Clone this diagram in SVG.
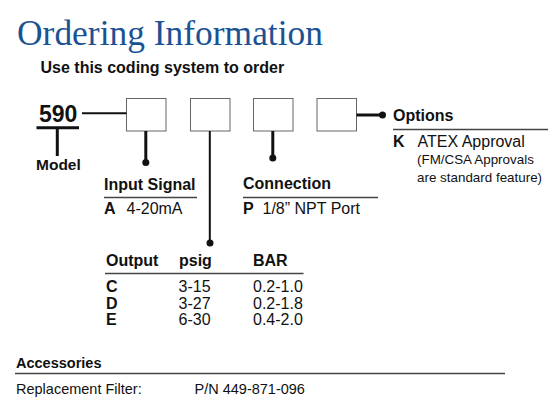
<svg xmlns="http://www.w3.org/2000/svg" width="558" height="409" viewBox="0 0 558 409">
<style>
text{font-family:"Liberation Sans",Arial,sans-serif;fill:#111}
.title{font-family:"Liberation Serif","Times New Roman",serif;fill:#1b5294;font-size:35px}
.b{font-weight:bold}
.h{font-size:16px;font-weight:bold}
.r{font-size:16px}
.s{font-size:13.4px}
.acc{font-size:14.5px}
.box{fill:#fff;stroke:#666;stroke-width:1}
.rule{stroke:#444;stroke-width:1.5;fill:none}
.conn{stroke:#111;fill:none}
.dot{fill:#111}
</style>
<rect width="558" height="409" fill="#fff"/>
<g id="title">
<text class="title" x="17" y="44.5" textLength="306" lengthAdjust="spacingAndGlyphs">Ordering Information</text>
<text class="b" x="40.5" y="73" font-size="16">Use this coding system to order</text>
</g>
<g id="model">
<text class="b" x="39" y="122.3" font-size="23">590</text>
<line x1="36.5" y1="127.7" x2="79" y2="127.7" stroke="#111" stroke-width="3"/>
<line x1="57.3" y1="127.7" x2="57.3" y2="156" stroke="#111" stroke-width="3"/>
<text class="b" x="36" y="170" font-size="15.5">Model</text>
</g>
<g id="box-input"><rect class="box" x="126.5" y="98.5" width="39.5" height="32.5"/></g>
<g id="box-output"><rect class="box" x="190.5" y="98.5" width="39.5" height="32.5"/></g>
<g id="box-connection"><rect class="box" x="253.5" y="98.5" width="39.5" height="32.5"/></g>
<g id="box-options"><rect class="box" x="317" y="98.5" width="39.5" height="32.5"/></g>
<g id="connectors">
<line class="conn" x1="82" y1="113.3" x2="126.5" y2="113.3" stroke-width="2"/>
<line class="conn" x1="145.8" y1="131" x2="145.8" y2="162.5" stroke-width="3"/>
<circle class="dot" cx="145.8" cy="162.5" r="3.5"/>
<line class="conn" x1="209.8" y1="131" x2="209.8" y2="243" stroke-width="2"/>
<circle class="dot" cx="210" cy="243" r="3.5"/>
<line class="conn" x1="272.8" y1="131" x2="272.8" y2="158" stroke-width="3"/>
<circle class="dot" cx="272.8" cy="158" r="3.5"/>
<line class="conn" x1="356.5" y1="115" x2="382.5" y2="115" stroke-width="3"/>
<circle class="dot" cx="382.5" cy="115" r="3.5"/>
</g>
<g id="options">
<text class="h" x="393" y="121">Options</text>
<line class="rule" x1="393" y1="129.5" x2="548" y2="129.5"/>
<text class="h" x="393" y="146.5">K</text>
<text class="r" x="417.5" y="146.5">ATEX Approval</text>
<text class="s" x="417" y="164">(FM/CSA Approvals</text>
<text class="s" x="417" y="181.5">are standard feature)</text>
</g>
<g id="input-signal">
<text class="h" x="104" y="190">Input Signal</text>
<line class="rule" x1="104" y1="197.5" x2="197" y2="197.5"/>
<text class="h" x="104" y="213.5">A</text>
<text class="r" x="126.5" y="213.5">4-20mA</text>
</g>
<g id="connection">
<text class="h" x="243" y="189">Connection</text>
<line class="rule" x1="243" y1="197.5" x2="378" y2="197.5"/>
<text class="h" x="243" y="214">P</text>
<text class="r" x="262.5" y="214">1/8” NPT Port</text>
</g>
<g id="output">
<text class="h" x="106" y="266">Output</text>
<text class="h" x="179" y="266">psig</text>
<text class="h" x="253" y="266">BAR</text>
<line class="rule" x1="105" y1="273.5" x2="303.5" y2="273.5"/>
<text class="h" x="106" y="291.5">C</text>
<text class="r" x="178.5" y="291.5">3-15</text>
<text class="r" x="253" y="291.5">0.2-1.0</text>
<text class="h" x="106" y="308.5">D</text>
<text class="r" x="178.5" y="308.5">3-27</text>
<text class="r" x="253" y="308.5">0.2-1.8</text>
<text class="h" x="106" y="325">E</text>
<text class="r" x="178.5" y="325">6-30</text>
<text class="r" x="253" y="325">0.4-2.0</text>
</g>
<g id="accessories">
<text class="acc b" x="16" y="368">Accessories</text>
<line class="rule" x1="15" y1="373.5" x2="505" y2="373.5"/>
<text class="acc" x="16" y="393.5">Replacement Filter:</text>
<text class="acc" x="194.5" y="393.5">P/N 449-871-096</text>
</g>
</svg>
